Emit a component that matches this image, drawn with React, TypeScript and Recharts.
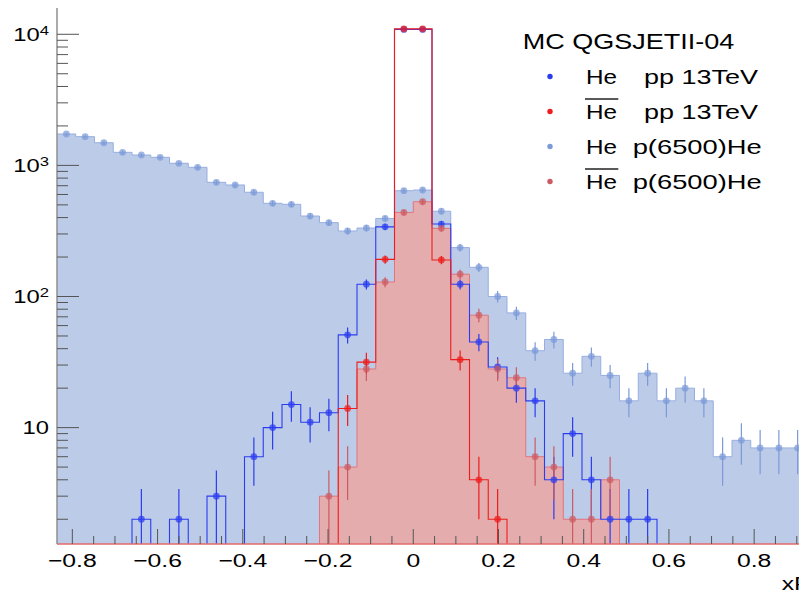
import React from 'react';
import { ComposedChart, Area, Line, Scatter, XAxis, YAxis, ErrorBar, Legend, Label } from 'recharts';

// ---- binning (xF) ----
const N_BINS = 40;
const X_START = -0.836;
const BIN_W = 0.044;
const binEdges = Array.from({ length: N_BINS + 1 }, (_, i) => +(X_START + i * BIN_W).toFixed(4));
const binCenters = Array.from({ length: N_BINS }, (_, i) => +(X_START + (i + 0.5) * BIN_W).toFixed(4));

// ---- series values (counts per bin) ----
const hePP = [0, 0, 0, 0, 2, 0, 2, 0, 3, 0, 6, 10, 15, 11, 13, 51, 124, 340, 10900, 10900, 357, 124, 45, 29, 20, 16, 4, 9, 4, 2, 2, 2, 0, 0, 0, 0, 0, 0, 0, 0];
const hePPErr = [0, 0, 0, 0, 1.4, 0, 1.4, 0, 1.7, 0, 2.4, 3.2, 3.9, 3.3, 3.6, 7.1, 11.1, 18.4, 104, 104, 18.9, 11.1, 6.7, 5.4, 4.5, 4, 2, 3, 2, 1.4, 1.4, 1.4, 0, 0, 0, 0, 0, 0, 0, 0];

const heBarPP = [0, 0, 0, 0, 0, 0, 0, 0, 0, 0, 0, 0, 0, 0, 0, 14, 31.6, 192, 11000, 11000, 190, 33, 4, 2, 0, 0, 0, 0, 0, 0, 0, 0, 0, 0, 0, 0, 0, 0, 0, 0];
const heBarPPErr = [0, 0, 0, 0, 0, 0, 0, 0, 0, 0, 0, 0, 0, 0, 0, 3.7, 5.6, 13.9, 105, 105, 13.8, 5.7, 2, 1.4, 0, 0, 0, 0, 0, 0, 0, 0, 0, 0, 0, 0, 0, 0, 0, 0];

const hePA = [1736, 1656, 1489, 1258, 1200, 1153, 1038, 967, 743, 709, 624, 514, 505, 411, 366, 316, 333, 394, 641, 649, 447, 236, 167, 100, 75, 38.6, 47, 26, 35, 25, 16, 26, 16, 20, 16, 6, 8, 7, 7, 7];
const hePAErr = [41.7, 40.7, 38.6, 35.5, 34.6, 34, 32.2, 31.1, 27.3, 26.6, 25, 22.7, 22.5, 20.3, 19.1, 17.8, 18.2, 19.8, 25.3, 25.5, 21.1, 15.4, 12.9, 10, 8.7, 6.2, 6.9, 5.1, 5.9, 5, 4, 5.1, 4, 4.5, 4, 2.4, 2.8, 2.6, 2.6, 2.6];

const heBarPA = [0, 0, 0, 0, 0, 0, 0, 0, 0, 0, 0, 0, 0, 0, 3, 5, 28, 129, 438, 528, 331, 148, 72, 28, 24, 6, 5, 2, 2, 4, 0, 0, 0, 0, 0, 0, 0, 0, 0, 0];
const heBarPAErr = [0, 0, 0, 0, 0, 0, 0, 0, 0, 0, 0, 0, 0, 0, 1.7, 2.2, 5.3, 11.4, 20.9, 23, 18.2, 12.2, 8.5, 5.3, 4.9, 2.4, 2.2, 1.4, 1.4, 2, 0, 0, 0, 0, 0, 0, 0, 0, 0, 0];

// ---- axis ticks ----
const xTicks = [-0.8, -0.75, -0.7, -0.65, -0.6, -0.55, -0.5, -0.45, -0.4, -0.35, -0.3, -0.25, -0.2, -0.15, -0.1, -0.05, 0, 0.05, 0.1, 0.15, 0.2, 0.25, 0.3, 0.35, 0.4, 0.45, 0.5, 0.55, 0.6, 0.65, 0.7, 0.75, 0.8, 0.85, 0.9];
const yTicks = [2, 3, 4, 5, 6, 7, 8, 9, 10, 20, 30, 40, 50, 60, 70, 80, 90, 100, 200, 300, 400, 500, 600, 700, 800, 900, 1000, 2000, 3000, 4000, 5000, 6000, 7000, 8000, 9000, 10000];

const Y_MIN = 1.295;
const Y_MAX = 15870;
const ZERO_FLOOR = 1; // empty bins are drawn below the visible range (clipped)

const C_HEPP = '#2b3cf0';
const C_HEBARPP = '#ee1c1c';
const C_HEPA = '#7b9ad8';
const C_HEBARPA = '#cc5a62';

// table for the step outlines (value of bin k at its low edge, last edge repeats last bin)
const stepRows = binEdges.map((x, i) => {
  const k = Math.min(i, N_BINS - 1);
  const f = (v: number) => (v > 0 ? v : ZERO_FLOOR);
  return { x, hePP: f(hePP[k]), heBarPP: f(heBarPP[k]), hePA: f(hePA[k]), heBarPA: f(heBarPA[k]) };
});

// markers at bin centres; the lower error is cut at the bottom of the frame (as the frame clips it)
const points = (vals: number[], errs: number[]) =>
  binCenters
    .map((x, k) => ({ x, y: vals[k], e: [Math.min(errs[k], vals[k] - Y_MIN), errs[k]] }))
    .filter((p) => p.y > 0);

const ptsHePP = points(hePP, hePPErr);
const ptsHeBarPP = points(heBarPP, heBarPPErr);
const ptsHePA = points(hePA, hePAErr);
const ptsHeBarPA = points(heBarPA, heBarPAErr);

const FONT = '"Liberation Sans", Arial, Helvetica, sans-serif';

const XTick = (props: any) => {
  const { x, y, payload } = props;
  const v = payload.value as number;
  const major = Math.abs(v * 5 - Math.round(v * 5)) < 1e-6;
  const label = Math.abs(v) < 1e-9 ? '0' : (v < 0 ? '\u2212' : '') + Math.abs(v).toFixed(1);
  return (
    <g>
      <line x1={x} x2={x} y1={y} y2={y - (major ? 15 : 8)} stroke="#555" strokeWidth={1} />
      {major && (
        <text transform={`translate(${x},${y + 22.7}) scale(1.33,1)`} textAnchor="middle" fontFamily={FONT} fontSize={18.6} fill="#000">
          {label}
        </text>
      )}
    </g>
  );
};

const YTick = (props: any) => {
  const { x, y, payload } = props;
  const v = payload.value as number;
  const lg = Math.log10(v);
  const exp = Math.round(lg);
  const major = Math.abs(lg - exp) < 1e-6;
  return (
    <g>
      <line x1={x} x2={x + (major ? 22 : 11)} y1={y} y2={y} stroke="#555" strokeWidth={1} />
      {major && (
        <text transform={`translate(${x - 8},${y + 6.7}) scale(1.28,1)`} textAnchor="end" fontFamily={FONT} fontSize={18.6} fill="#000">
          10
          {exp !== 1 && (
            <tspan dy={-6.5} fontSize={13}>
              {exp}
            </tspan>
          )}
        </text>
      )}
    </g>
  );
};

const legendRows = [
  { a: 'He', bar: false, b: 'pp 13TeV', bx: 644, bw: 114, color: C_HEPP },
  { a: 'He', bar: true, b: 'pp 13TeV', bx: 644, bw: 114, color: C_HEBARPP },
  { a: 'He', bar: false, b: 'p(6500)He', bx: 632.7, bw: 129, color: C_HEPA },
  { a: 'He', bar: true, b: 'p(6500)He', bx: 632.7, bw: 129, color: C_HEBARPA },
];

const LegendBox = () => (
  <svg width={807} height={200} style={{ display: 'block' }}>
    <text x={522.7} y={49.3} fontFamily={FONT} fontSize={22} textLength={211.6} lengthAdjust="spacingAndGlyphs" fill="#000">
      MC QGSJETII-04
    </text>
    {legendRows.map((r, i) => {
      const base = 83.5 + 35 * i;
      return (
        <g key={i}>
          <circle cx={550} cy={base - 7} r={2.7} fill={r.color} />
          <text x={586} y={base} fontFamily={FONT} fontSize={21} textLength={31} lengthAdjust="spacingAndGlyphs" fill="#000">
            {r.a}
          </text>
          {r.bar && <line x1={585} x2={618.3} y1={base - 19.6} y2={base - 19.6} stroke="#222" strokeWidth={1.5} />}
          <text x={r.bx} y={base} fontFamily={FONT} fontSize={21} textLength={r.bw} lengthAdjust="spacingAndGlyphs" fill="#000">
            {r.b}
          </text>
        </g>
      );
    })}
  </svg>
);

const XTitle = (props: any) => {
  const vb = props.viewBox || { x: 57, y: 544, width: 750, height: 47 };
  return (
    <text transform={`translate(${vb.x + vb.width - 25.3},${vb.y + 46}) scale(1.3,1)`} fontFamily={FONT} fontSize={19} fill="#000">
      xF
    </text>
  );
};

const dot = (color: string, r: number) => (p: any) => (
  <circle cx={p.cx} cy={p.cy} r={r} fill={color} fillOpacity={0.72} />
);

export default function App() {
  return (
    <div style={{ position: 'absolute', left: 0, top: 0, width: 799, height: 591, overflow: 'hidden', background: '#fff' }}>
      <ComposedChart width={807} height={591} data={stepRows} margin={{ top: 8, right: 0, bottom: 0, left: 0 }}>
        <XAxis
          dataKey="x"
          type="number"
          domain={[X_START, X_START + N_BINS * BIN_W]}
          allowDataOverflow
          ticks={xTicks}
          interval={0}
          tickSize={0}
          tickMargin={0}
          tickLine={false}
          tick={<XTick />}
          height={47}
          axisLine={{ stroke: '#e36a6a', strokeWidth: 1.3 }}
          label={<Label content={<XTitle />} />}
        />
        <XAxis
          xAxisId="top"
          orientation="top"
          type="number"
          domain={[X_START, X_START + N_BINS * BIN_W]}
          allowDataOverflow
          height={0}
          tick={false}
          tickLine={false}
          axisLine={{ stroke: '#9a9a9a', strokeWidth: 1.5 }}
        />
        <YAxis
          type="number"
          scale="log"
          domain={[Y_MIN, Y_MAX]}
          allowDataOverflow
          ticks={yTicks}
          interval={0}
          tickSize={0}
          tickMargin={0}
          tickLine={false}
          tick={<YTick />}
          width={57}
          axisLine={{ stroke: '#8f8f8f', strokeWidth: 1.5 }}
        />
        <Legend verticalAlign="middle" align="center" layout="horizontal" wrapperStyle={{ left: 0, top: 0, width: 807, height: 200, pointerEvents: 'none' }} content={<LegendBox />} />

        <Area type="stepAfter" dataKey="hePA" baseValue={Y_MIN} stroke="#97aee0" strokeWidth={1} fill="#bccbe8" fillOpacity={1} isAnimationActive={false} dot={false} activeDot={false} />
        <Line type="stepAfter" dataKey="hePP" stroke={C_HEPP} strokeWidth={1.1} dot={false} activeDot={false} isAnimationActive={false} />
        <Scatter data={ptsHePA} dataKey="y" shape={dot(C_HEPA, 3.4)} isAnimationActive={false}>
          <ErrorBar dataKey="e" direction="y" width={0} stroke={C_HEPA} strokeWidth={1.2} />
        </Scatter>
        <Scatter data={ptsHePP} dataKey="y" shape={dot(C_HEPP, 3.4)} isAnimationActive={false}>
          <ErrorBar dataKey="e" direction="y" width={0} stroke={C_HEPP} strokeWidth={1.2} />
        </Scatter>
        <Area type="stepAfter" dataKey="heBarPA" baseValue={Y_MIN} stroke="#e0767c" strokeWidth={1} fill="rgb(247,158,150)" fillOpacity={0.7} isAnimationActive={false} dot={false} activeDot={false} />
        <Scatter data={ptsHeBarPA} dataKey="y" shape={dot(C_HEBARPA, 3.4)} isAnimationActive={false}>
          <ErrorBar dataKey="e" direction="y" width={0} stroke={C_HEBARPA} strokeWidth={1.2} />
        </Scatter>
        <Line type="stepAfter" dataKey="heBarPP" stroke={C_HEBARPP} strokeWidth={1.1} dot={false} activeDot={false} isAnimationActive={false} />
        <Scatter data={ptsHeBarPP} dataKey="y" shape={dot(C_HEBARPP, 3.4)} isAnimationActive={false}>
          <ErrorBar dataKey="e" direction="y" width={0} stroke={C_HEBARPP} strokeWidth={1.2} />
        </Scatter>
      </ComposedChart>
    </div>
  );
}
